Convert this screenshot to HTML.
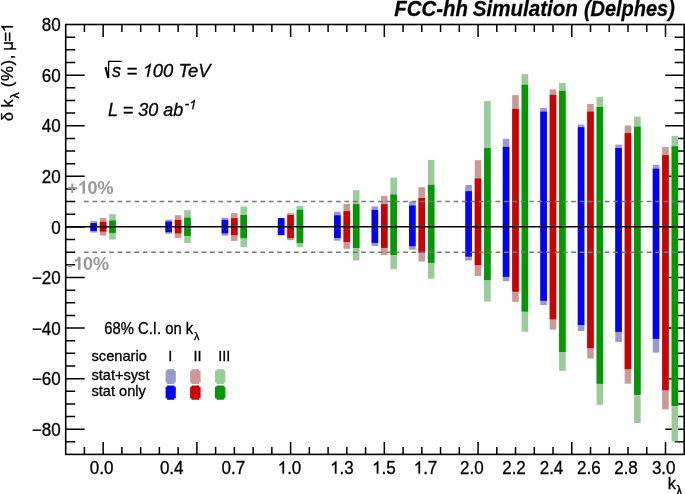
<!DOCTYPE html>
<html><head><meta charset="utf-8"><style>
html,body{margin:0;padding:0;background:#fff;width:685px;height:494px;overflow:hidden}
svg{display:block;will-change:transform}
text{font-family:"Liberation Sans",sans-serif}
text.r,path.r{stroke:#000;stroke-width:0.3px}
.one{fill-opacity:0;stroke-opacity:0}
</style></head><body>
<svg width="685" height="494" viewBox="0 0 685 494">
<rect x="0" y="0" width="685" height="494" fill="#fff"/>
<path d="M65.7 441.865H75.2M684.2 441.865H674.7M65.7 429.22H84.7M684.2 429.22H665.2M65.7 416.575H75.2M684.2 416.575H674.7M65.7 403.93H75.2M684.2 403.93H674.7M65.7 391.285H75.2M684.2 391.285H674.7M65.7 378.64H84.7M684.2 378.64H665.2M65.7 365.995H75.2M684.2 365.995H674.7M65.7 353.35H75.2M684.2 353.35H674.7M65.7 340.705H75.2M684.2 340.705H674.7M65.7 328.06H84.7M684.2 328.06H665.2M65.7 315.415H75.2M684.2 315.415H674.7M65.7 302.77H75.2M684.2 302.77H674.7M65.7 290.125H75.2M684.2 290.125H674.7M65.7 277.48H84.7M684.2 277.48H665.2M65.7 264.835H75.2M684.2 264.835H674.7M65.7 252.19H75.2M684.2 252.19H674.7M65.7 239.545H75.2M684.2 239.545H674.7M65.7 226.9H84.7M684.2 226.9H665.2M65.7 214.255H75.2M684.2 214.255H674.7M65.7 201.61H75.2M684.2 201.61H674.7M65.7 188.965H75.2M684.2 188.965H674.7M65.7 176.32H84.7M684.2 176.32H665.2M65.7 163.675H75.2M684.2 163.675H674.7M65.7 151.03H75.2M684.2 151.03H674.7M65.7 138.385H75.2M684.2 138.385H674.7M65.7 125.74H84.7M684.2 125.74H665.2M65.7 113.095H75.2M684.2 113.095H674.7M65.7 100.45H75.2M684.2 100.45H674.7M65.7 87.805H75.2M684.2 87.805H674.7M65.7 75.16H84.7M684.2 75.16H665.2M65.7 62.515H75.2M684.2 62.515H674.7M65.7 49.87H75.2M684.2 49.87H674.7M65.7 37.225H75.2M684.2 37.225H674.7M84.405 454.4V446.9M84.405 24.5V32M103.15 454.4V441.9M103.15 24.5V37M121.895 454.4V446.9M121.895 24.5V32M140.64 454.4V446.9M140.64 24.5V32M159.385 454.4V446.9M159.385 24.5V32M178.13 454.4V446.9M178.13 24.5V32M196.875 454.4V441.9M196.875 24.5V37M215.62 454.4V446.9M215.62 24.5V32M234.365 454.4V446.9M234.365 24.5V32M253.11 454.4V446.9M253.11 24.5V32M271.855 454.4V446.9M271.855 24.5V32M290.6 454.4V441.9M290.6 24.5V37M309.345 454.4V446.9M309.345 24.5V32M328.09 454.4V446.9M328.09 24.5V32M346.835 454.4V446.9M346.835 24.5V32M365.58 454.4V446.9M365.58 24.5V32M384.325 454.4V441.9M384.325 24.5V37M403.07 454.4V446.9M403.07 24.5V32M421.815 454.4V446.9M421.815 24.5V32M440.56 454.4V446.9M440.56 24.5V32M459.305 454.4V446.9M459.305 24.5V32M478.05 454.4V441.9M478.05 24.5V37M496.795 454.4V446.9M496.795 24.5V32M515.54 454.4V446.9M515.54 24.5V32M534.285 454.4V446.9M534.285 24.5V32M553.03 454.4V446.9M553.03 24.5V32M571.775 454.4V441.9M571.775 24.5V37M590.52 454.4V446.9M590.52 24.5V32M609.265 454.4V446.9M609.265 24.5V32M628.01 454.4V446.9M628.01 24.5V32M646.755 454.4V446.9M646.755 24.5V32M665.5 454.4V441.9M665.5 24.5V37" stroke="#000" stroke-width="1.5" fill="none"/>
<rect x="90.4" y="221.05" width="6.6" height="11.55" fill="#9999cc"/><rect x="90.4" y="223.1" width="6.6" height="7.8" fill="#0000ff"/>
<rect x="99.8" y="218" width="6.6" height="17.6" fill="#cc9999"/><rect x="99.8" y="221.8" width="6.6" height="9.8" fill="#cc0000"/>
<rect x="109.2" y="214.2" width="6.6" height="25.3" fill="#99cc99"/><rect x="109.2" y="220.5" width="6.6" height="12.4" fill="#009900"/>
<rect x="165.38" y="219.7" width="6.6" height="14" fill="#9999cc"/><rect x="165.38" y="221.5" width="6.6" height="10.7" fill="#0000ff"/>
<rect x="174.78" y="215.2" width="6.6" height="22.8" fill="#cc9999"/><rect x="174.78" y="219.9" width="6.6" height="13.5" fill="#cc0000"/>
<rect x="184.18" y="210.1" width="6.6" height="32.9" fill="#99cc99"/><rect x="184.18" y="217.7" width="6.6" height="18.2" fill="#009900"/>
<rect x="221.615" y="217.8" width="6.6" height="17.9" fill="#9999cc"/><rect x="221.615" y="219.9" width="6.6" height="13.4" fill="#0000ff"/>
<rect x="231.015" y="213" width="6.6" height="27.9" fill="#cc9999"/><rect x="231.015" y="218.1" width="6.6" height="17" fill="#cc0000"/>
<rect x="240.415" y="206.5" width="6.6" height="40.5" fill="#99cc99"/><rect x="240.415" y="215" width="6.6" height="23.1" fill="#009900"/>
<rect x="277.85" y="217.9" width="6.6" height="17.4" fill="#9999cc"/><rect x="277.85" y="218.1" width="6.6" height="17" fill="#0000ff"/>
<rect x="287.25" y="213.2" width="6.6" height="27" fill="#cc9999"/><rect x="287.25" y="215" width="6.6" height="23.1" fill="#cc0000"/>
<rect x="296.65" y="205.9" width="6.6" height="41.3" fill="#99cc99"/><rect x="296.65" y="209.8" width="6.6" height="33.2" fill="#009900"/>
<rect x="334.085" y="211.8" width="6.6" height="28.9" fill="#9999cc"/><rect x="334.085" y="215.3" width="6.6" height="22.6" fill="#0000ff"/>
<rect x="343.485" y="203.9" width="6.6" height="45" fill="#cc9999"/><rect x="343.485" y="211.1" width="6.6" height="30.8" fill="#cc0000"/>
<rect x="352.885" y="190.1" width="6.6" height="70.4" fill="#99cc99"/><rect x="352.885" y="204.1" width="6.6" height="43.9" fill="#009900"/>
<rect x="371.575" y="206.4" width="6.6" height="39.5" fill="#9999cc"/><rect x="371.575" y="209.9" width="6.6" height="33" fill="#0000ff"/>
<rect x="380.975" y="195.9" width="6.6" height="59.2" fill="#cc9999"/><rect x="380.975" y="204.2" width="6.6" height="43.65" fill="#cc0000"/>
<rect x="390.375" y="177.6" width="6.6" height="91.6" fill="#99cc99"/><rect x="390.375" y="194.5" width="6.6" height="60.5" fill="#009900"/>
<rect x="409.065" y="201.6" width="6.6" height="48.1" fill="#9999cc"/><rect x="409.065" y="205.5" width="6.6" height="40.7" fill="#0000ff"/>
<rect x="418.465" y="187.2" width="6.6" height="74.4" fill="#cc9999"/><rect x="418.465" y="198" width="6.6" height="54.8" fill="#cc0000"/>
<rect x="427.865" y="159.9" width="6.6" height="118.9" fill="#99cc99"/><rect x="427.865" y="184.9" width="6.6" height="78" fill="#009900"/>
<rect x="465.3" y="185" width="6.6" height="75.5" fill="#9999cc"/><rect x="465.3" y="191.2" width="6.6" height="65.4" fill="#0000ff"/>
<rect x="474.7" y="160.2" width="6.6" height="115.7" fill="#cc9999"/><rect x="474.7" y="178.5" width="6.6" height="86.6" fill="#cc0000"/>
<rect x="484.1" y="101.1" width="6.6" height="200.5" fill="#99cc99"/><rect x="484.1" y="148.1" width="6.6" height="132" fill="#009900"/>
<rect x="502.79" y="138.7" width="6.6" height="142.5" fill="#9999cc"/><rect x="502.79" y="146.9" width="6.6" height="129.9" fill="#0000ff"/>
<rect x="512.19" y="95.1" width="6.6" height="206.8" fill="#cc9999"/><rect x="512.19" y="108.9" width="6.6" height="182.8" fill="#cc0000"/>
<rect x="521.59" y="74.1" width="6.6" height="257.6" fill="#99cc99"/><rect x="521.59" y="84.8" width="6.6" height="226.8" fill="#009900"/>
<rect x="540.28" y="107.9" width="6.6" height="197.2" fill="#9999cc"/><rect x="540.28" y="111.6" width="6.6" height="189.2" fill="#0000ff"/>
<rect x="549.68" y="89.4" width="6.6" height="240.2" fill="#cc9999"/><rect x="549.68" y="94.9" width="6.6" height="224.4" fill="#cc0000"/>
<rect x="559.08" y="82.8" width="6.6" height="288.1" fill="#99cc99"/><rect x="559.08" y="90.9" width="6.6" height="261.1" fill="#009900"/>
<rect x="577.77" y="124.6" width="6.6" height="206.4" fill="#9999cc"/><rect x="577.77" y="127.2" width="6.6" height="197.8" fill="#0000ff"/>
<rect x="587.17" y="103.9" width="6.6" height="254.6" fill="#cc9999"/><rect x="587.17" y="111.6" width="6.6" height="236.5" fill="#cc0000"/>
<rect x="596.57" y="97.1" width="6.6" height="307.7" fill="#99cc99"/><rect x="596.57" y="107" width="6.6" height="276.8" fill="#009900"/>
<rect x="615.26" y="144.6" width="6.6" height="197.3" fill="#9999cc"/><rect x="615.26" y="148" width="6.6" height="183.9" fill="#0000ff"/>
<rect x="624.66" y="125.5" width="6.6" height="258.2" fill="#cc9999"/><rect x="624.66" y="133.1" width="6.6" height="236" fill="#cc0000"/>
<rect x="634.06" y="116.6" width="6.6" height="306.5" fill="#99cc99"/><rect x="634.06" y="126.7" width="6.6" height="268.2" fill="#009900"/>
<rect x="652.75" y="164.8" width="6.6" height="187.8" fill="#9999cc"/><rect x="652.75" y="168.7" width="6.6" height="170.1" fill="#0000ff"/>
<rect x="662.15" y="147" width="6.6" height="262.4" fill="#cc9999"/><rect x="662.15" y="155.1" width="6.6" height="235.1" fill="#cc0000"/>
<rect x="671.55" y="135.8" width="6.6" height="305.5" fill="#99cc99"/><rect x="671.55" y="146.3" width="6.6" height="259.7" fill="#009900"/>
<path d="M84 201.61H684.2" stroke="#777" stroke-width="1.5" stroke-dasharray="4.7 3.7"/>
<path d="M84 252.19H684.2" stroke="#777" stroke-width="1.5" stroke-dasharray="4.7 3.7"/>
<path d="M65.7 226.75H684.2" stroke="#000" stroke-width="1.5"/>
<rect x="65.7" y="24.5" width="618.5" height="429.9" fill="none" stroke="#000" stroke-width="1.6"/>
<text transform="translate(60.7,435.92) scale(1,1.06)" class="r" font-size="17" text-anchor="end">−80</text>
<text transform="translate(60.7,385.34) scale(1,1.06)" class="r" font-size="17" text-anchor="end">−60</text>
<text transform="translate(60.7,334.76) scale(1,1.06)" class="r" font-size="17" text-anchor="end">−40</text>
<text transform="translate(60.7,284.18) scale(1,1.06)" class="r" font-size="17" text-anchor="end">−20</text>
<text transform="translate(60.7,233.6) scale(1,1.06)" class="r" font-size="17" text-anchor="end">0</text>
<text transform="translate(60.7,183.02) scale(1,1.06)" class="r" font-size="17" text-anchor="end">20</text>
<text transform="translate(60.7,132.44) scale(1,1.06)" class="r" font-size="17" text-anchor="end">40</text>
<text transform="translate(60.7,81.86) scale(1,1.06)" class="r" font-size="17" text-anchor="end">60</text>
<text transform="translate(60.7,31.28) scale(1,1.06)" class="r" font-size="17" text-anchor="end">80</text>
<text transform="translate(101.6,473.6) scale(1,1.06)" class="r" font-size="17" text-anchor="middle">0.0</text>
<text transform="translate(171.7,473.6) scale(1,1.06)" class="r" font-size="17" text-anchor="middle">0.4</text>
<text transform="translate(233.3,473.6) scale(1,1.06)" class="r" font-size="17" text-anchor="middle">0.7</text>
<g transform="translate(289.5,473.6) scale(1,1.06)"><text class="r" font-size="17" text-anchor="middle"><tspan class="one">1</tspan>.0</text><path class="r" fill="#000" d="M-5.48 0.00L-6.97 0.00L-6.97 -9.11C-7.33 -8.78 -7.80 -8.45 -8.38 -8.13C-8.97 -7.80 -9.49 -7.55 -9.95 -7.39L-9.95 -8.77C-9.11 -9.15 -8.38 -9.60 -7.76 -10.14C-7.14 -10.67 -6.70 -11.19 -6.44 -11.70L-5.48 -11.70Z"/></g>
<g transform="translate(341.9,473.6) scale(1,1.06)"><text class="r" font-size="17" text-anchor="middle"><tspan class="one">1</tspan>.3</text><path class="r" fill="#000" d="M-5.48 0.00L-6.97 0.00L-6.97 -9.11C-7.33 -8.78 -7.80 -8.45 -8.38 -8.13C-8.97 -7.80 -9.49 -7.55 -9.95 -7.39L-9.95 -8.77C-9.11 -9.15 -8.38 -9.60 -7.76 -10.14C-7.14 -10.67 -6.70 -11.19 -6.44 -11.70L-5.48 -11.70Z"/></g>
<g transform="translate(383.8,473.6) scale(1,1.06)"><text class="r" font-size="17" text-anchor="middle"><tspan class="one">1</tspan>.5</text><path class="r" fill="#000" d="M-5.48 0.00L-6.97 0.00L-6.97 -9.11C-7.33 -8.78 -7.80 -8.45 -8.38 -8.13C-8.97 -7.80 -9.49 -7.55 -9.95 -7.39L-9.95 -8.77C-9.11 -9.15 -8.38 -9.60 -7.76 -10.14C-7.14 -10.67 -6.70 -11.19 -6.44 -11.70L-5.48 -11.70Z"/></g>
<g transform="translate(425.5,473.6) scale(1,1.06)"><text class="r" font-size="17" text-anchor="middle"><tspan class="one">1</tspan>.7</text><path class="r" fill="#000" d="M-5.48 0.00L-6.97 0.00L-6.97 -9.11C-7.33 -8.78 -7.80 -8.45 -8.38 -8.13C-8.97 -7.80 -9.49 -7.55 -9.95 -7.39L-9.95 -8.77C-9.11 -9.15 -8.38 -9.60 -7.76 -10.14C-7.14 -10.67 -6.70 -11.19 -6.44 -11.70L-5.48 -11.70Z"/></g>
<text transform="translate(471.8,473.6) scale(1,1.06)" class="r" font-size="17" text-anchor="middle">2.0</text>
<text transform="translate(514,473.6) scale(1,1.06)" class="r" font-size="17" text-anchor="middle">2.2</text>
<text transform="translate(551.5,473.6) scale(1,1.06)" class="r" font-size="17" text-anchor="middle">2.4</text>
<text transform="translate(588.8,473.6) scale(1,1.06)" class="r" font-size="17" text-anchor="middle">2.6</text>
<text transform="translate(626,473.6) scale(1,1.06)" class="r" font-size="17" text-anchor="middle">2.8</text>
<text transform="translate(663.7,473.6) scale(1,1.06)" class="r" font-size="17" text-anchor="middle">3.0</text>
<text transform="translate(394.3,15.6) scale(1,1.06)" font-size="20.4" font-weight="bold" font-style="italic" stroke="#000" stroke-width="0.25">FCC-hh</text>
<text transform="translate(472.8,15.6) scale(1.008,1.06)" font-size="20.4" font-weight="bold" font-style="italic" stroke="#000" stroke-width="0.25">Simulation</text>
<text transform="translate(674.8,15.6) scale(0.978,1.06)" font-size="20.4" font-weight="bold" font-style="italic" stroke="#000" stroke-width="0.25" text-anchor="end">(Delphes)</text>
<text transform="translate(112,76.8) scale(1,1.06)" class="r" font-size="18" font-style="italic">s</text>
<g transform="translate(126.6,76.8) scale(1,1.034)"><text class="r" font-size="18.45" font-style="italic">= <tspan class="one">1</tspan>00 TeV</text><path class="r" fill="#000" d="M21.83 0.00L20.21 0.00L22.24 -9.89C21.78 -9.53 21.19 -9.17 20.49 -8.82C19.79 -8.47 19.16 -8.20 18.62 -8.02L18.93 -9.52C19.93 -9.93 20.82 -10.42 21.62 -11.00C22.41 -11.58 23.00 -12.14 23.40 -12.69L24.44 -12.69Z"/></g>
<path d="M104.5 67.6L106.6 66.7L109.1 77.9L107.3 78.3Z" fill="#000"/><path d="M108.6 78V61.4H121.7" stroke="#000" stroke-width="1.3" fill="none"/>
<g transform="translate(108,115.8) scale(1,1.06)"><text class="r" font-size="18" font-style="italic">L = 30 ab<tspan font-size="13" dx="1.6" dy="-6.2">-<tspan class="one">1</tspan></tspan></text><path class="r" fill="#000" d="M85.29 -6.20L84.15 -6.20L85.59 -13.17C85.26 -12.92 84.85 -12.66 84.35 -12.41C83.86 -12.17 83.42 -11.98 83.04 -11.85L83.25 -12.91C83.95 -13.20 84.59 -13.54 85.15 -13.95C85.70 -14.36 86.12 -14.76 86.40 -15.14L87.14 -15.14Z"/></g>
<g transform="translate(67,193.8) scale(1,1.06)"><text font-size="18" font-weight="bold" fill="#999">+<tspan class="one">1</tspan>0%</text><path fill="#999" d="M18.02 0.00L15.55 0.00L15.55 -8.90C14.65 -8.10 13.58 -7.51 12.36 -7.12L12.36 -9.26C13.00 -9.47 13.71 -9.84 14.46 -10.40C15.22 -10.96 15.74 -11.62 16.02 -12.38L18.02 -12.38Z"/></g>
<g transform="translate(67,269.8) scale(1,1.06)"><text font-size="18" font-weight="bold" fill="#999"><tspan dy="0.85">-</tspan><tspan dy="-0.85"><tspan class="one">1</tspan>0%</tspan></text><path fill="#999" d="M13.50 0.00L11.03 0.00L11.03 -8.90C10.13 -8.10 9.07 -7.51 7.84 -7.12L7.84 -9.26C8.49 -9.47 9.19 -9.84 9.94 -10.40C10.70 -10.96 11.22 -11.62 11.50 -12.38L13.50 -12.38Z"/></g>
<text transform="translate(667.7,488.9) scale(1,1.06)" class="r" font-size="16.3">k<tspan font-size="13" dx="0.2" dy="7.0">λ</tspan></text>
<g transform="translate(12.75,121.3) rotate(-90)"><text class="r" font-size="16.6">δ k<tspan font-size="12.1" dx="0.6" dy="6.7">λ</tspan><tspan dy="-6.7" font-size="16.85" letter-spacing="0.6"> (%)</tspan><tspan font-size="16.85" letter-spacing="-0.5">, μ=<tspan class="one">1</tspan></tspan></text><path class="r" fill="#000" d="M95.27 0.00L93.79 0.00L93.79 -9.03C93.43 -8.70 92.96 -8.38 92.39 -8.05C91.81 -7.73 91.29 -7.49 90.83 -7.32L90.83 -8.70C91.66 -9.07 92.39 -9.52 93.01 -10.05C93.62 -10.57 94.06 -11.09 94.31 -11.59L95.27 -11.59Z"/></g>
<text transform="translate(104.3,333.7) scale(1,1.06)" class="r" font-size="14.8">68% C.I. on k<tspan font-size="10.8" dx="0.8" dy="5.6">λ</tspan></text>
<text transform="translate(91.5,360.8) scale(1,1.06)" class="r" font-size="14.65">scenario</text>
<text transform="translate(170.25,360.8) scale(1,1.06)" class="r" font-size="14.5" text-anchor="middle">I</text>
<text transform="translate(197.5,360.8) scale(1,1.06)" class="r" font-size="14.5" text-anchor="middle">II</text>
<text transform="translate(224.3,360.8) scale(1,1.06)" class="r" font-size="14.5" text-anchor="middle">III</text>
<text transform="translate(91.5,380) scale(1,1.06)" class="r" font-size="14.6">stat+syst</text>
<text transform="translate(91.5,396.2) scale(1,1.06)" class="r" font-size="14.6">stat only</text>
<polygon points="167.1,369.3 174.3,369.3 174.3,370.7 175.8,370.7 175.8,382.5 174.3,382.5 174.3,383.9 167.1,383.9 167.1,382.5 165.6,382.5 165.6,370.7 167.1,370.7" fill="#9999cc"/>
<polygon points="167.1,385.4 174.3,385.4 174.3,386.8 175.8,386.8 175.8,398.3 174.3,398.3 174.3,399.7 167.1,399.7 167.1,398.3 165.6,398.3 165.6,386.8 167.1,386.8" fill="#0000ff"/>
<polygon points="191.6,369.3 199.1,369.3 199.1,370.7 200.6,370.7 200.6,382.5 199.1,382.5 199.1,383.9 191.6,383.9 191.6,382.5 190.1,382.5 190.1,370.7 191.6,370.7" fill="#cc9999"/>
<polygon points="191.6,385.4 199.1,385.4 199.1,386.8 200.6,386.8 200.6,398.3 199.1,398.3 199.1,399.7 191.6,399.7 191.6,398.3 190.1,398.3 190.1,386.8 191.6,386.8" fill="#cc0000"/>
<polygon points="216.5,369.3 223.9,369.3 223.9,370.7 225.4,370.7 225.4,382.5 223.9,382.5 223.9,383.9 216.5,383.9 216.5,382.5 215,382.5 215,370.7 216.5,370.7" fill="#99cc99"/>
<polygon points="216.5,385.4 223.9,385.4 223.9,386.8 225.4,386.8 225.4,398.3 223.9,398.3 223.9,399.7 216.5,399.7 216.5,398.3 215,398.3 215,386.8 216.5,386.8" fill="#009900"/>
</svg>
</body></html>
